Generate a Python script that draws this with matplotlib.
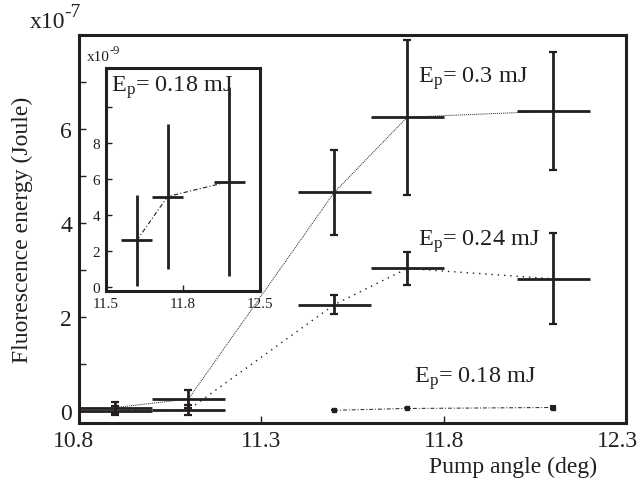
import numpy as np
import matplotlib.pyplot as plt
from matplotlib.transforms import ScaledTranslation

plt.rcParams['font.family'] = ['Liberation Serif', 'DejaVu Serif']
plt.rcParams['mathtext.fontset'] = 'custom'
plt.rcParams['mathtext.rm'] = 'Liberation Serif'
plt.rcParams['mathtext.it'] = 'Liberation Serif:italic'

ink = '#231f20'

# main plot data (units of 1e-7 J)
angle = [10.9, 11.1, 11.5, 11.7, 12.1]
e30 = [0.07, 0.25, 4.65, 6.25, 6.38]
e30_err = [0.12, 0.2, 0.9, 1.65, 1.25]
e24 = [0.0, 0.02, 2.26, 3.03, 2.81]
e24_err = [0.1, 0.1, 0.21, 0.36, 0.97]
angle18 = [11.5, 11.7, 12.1]
e18 = [0.01, 0.05, 0.07]
e18_err = [0.0, 0.0, 0.04]
x_err = 0.1

# inset data (units of 1e-9 J)
in_e18 = [2.6, 5.03, 5.86]
in_e18_err = [2.5, 4.0, 5.25]

fig = plt.figure(figsize=(6.4, 4.89), dpi=100)
ax = fig.add_axes([0.1234, 0.1329, 0.8547, 0.7935])

ax.plot(angle, e30, color=ink, ls=(0, (1, 1)), lw=0.7)
ax.errorbar(angle, e30, yerr=e30_err, fmt='none', ecolor=ink, elinewidth=2.0, capsize=3.2, capthick=1.6)
ax.errorbar(angle, e30, xerr=x_err, fmt='none', ecolor=ink, elinewidth=2.0, capsize=0)

ax.plot(angle, e24, color=ink, ls=(0, (1, 3.5)), lw=1.0)
ax.errorbar(angle, e24, yerr=e24_err, fmt='none', ecolor=ink, elinewidth=2.0, capsize=3.2, capthick=1.6)
ax.errorbar(angle, e24, xerr=x_err, fmt='none', ecolor=ink, elinewidth=2.0, capsize=0)

ax.plot(angle18, e18, color=ink, ls=(0, (4, 2, 1, 2)), lw=0.7, marker='s', ms=3)
ax.errorbar(angle18, e18, yerr=e18_err, fmt='none', ecolor=ink, elinewidth=1.5, capsize=2, capthick=1.5)

ax.set_xlim(10.8, 12.3)
ax.set_ylim(-0.26, 8.0)
ax.set_xticks([10.8, 11.3, 11.8, 12.3])
ax.set_xticklabels(['10.8', '11.3', '11.8', '12.3'])
ax.set_yticks([0, 1, 2, 3, 4, 5, 6, 7])
ax.set_yticklabels(['0', '', '2', '', '4', '', '6', ''])
ax.tick_params(direction='in', length=5, width=1, colors=ink, labelsize=17, pad=5)
for s in ax.spines.values():
    s.set_linewidth(2.2)
    s.set_color(ink)

# nudge the end labels inward like the original
xl = ax.get_xticklabels()
xl[0].set_transform(xl[0].get_transform() + ScaledTranslation(-5 / 100, 0, fig.dpi_scale_trans))
xl[-1].set_transform(xl[-1].get_transform() + ScaledTranslation(-8 / 100, 0, fig.dpi_scale_trans))

ax.set_ylabel('Fluorescence energy (Joule)', fontsize=17, color=ink)
ax.yaxis.set_label_coords(-0.084, 0.5)
ax.set_xlabel('Pump angle (deg)', fontsize=17, color=ink)
ax.xaxis.set_label_coords(0.793, -0.085)

ax.text(11.73, 7.0, r'E$_{\mathrm{p}}$= 0.3 mJ', fontsize=17.5, color=ink, va='baseline')
ax.text(11.73, 3.54, r'E$_{\mathrm{p}}$= 0.24 mJ', fontsize=17.5, color=ink, va='baseline')
ax.text(11.72, 0.62, r'E$_{\mathrm{p}}$= 0.18 mJ', fontsize=17.5, color=ink, va='baseline')

fig.text(30 / 640, 1 - 28 / 489, 'x10', fontsize=17, color=ink, va='baseline')
fig.text(64 / 640, 1 - 17 / 489, '-7', fontsize=14, color=ink, va='baseline')

# inset
ins = fig.add_axes([0.1656, 0.4029, 0.2406, 0.456])
ins.plot(angle18, in_e18, color=ink, ls=(0, (4, 2, 1, 2)), lw=0.8)
ins.errorbar(angle18, in_e18, xerr=x_err, yerr=in_e18_err, fmt='none', ecolor=ink, elinewidth=2.0, capsize=0)
ins.set_xlim(11.3, 12.3)
ins.set_ylim(-0.2, 12.15)
ins.set_xticks([11.3, 11.8, 12.3])
ins.set_xticklabels(['11.5', '11.8', '12.5'])
ins.set_yticks([0, 2, 4, 6, 8, 10])
ins.set_yticklabels(['0', '2', '4', '6', '8', ''])
ins.tick_params(direction='in', length=4, width=1, colors=ink, labelsize=11, pad=4)
for s in ins.spines.values():
    s.set_linewidth(2.2)
    s.set_color(ink)
ins.text(11.33, 10.9, r'E$_{\mathrm{p}}$= 0.18 mJ', fontsize=17.5, color=ink, va='baseline')

fig.text(87 / 640, 1 - 61 / 489, 'x10', fontsize=11, color=ink, va='baseline')
fig.text(110 / 640, 1 - 54 / 489, '-9', fontsize=9, color=ink, va='baseline')

fig.savefig('out.png', dpi=100)
